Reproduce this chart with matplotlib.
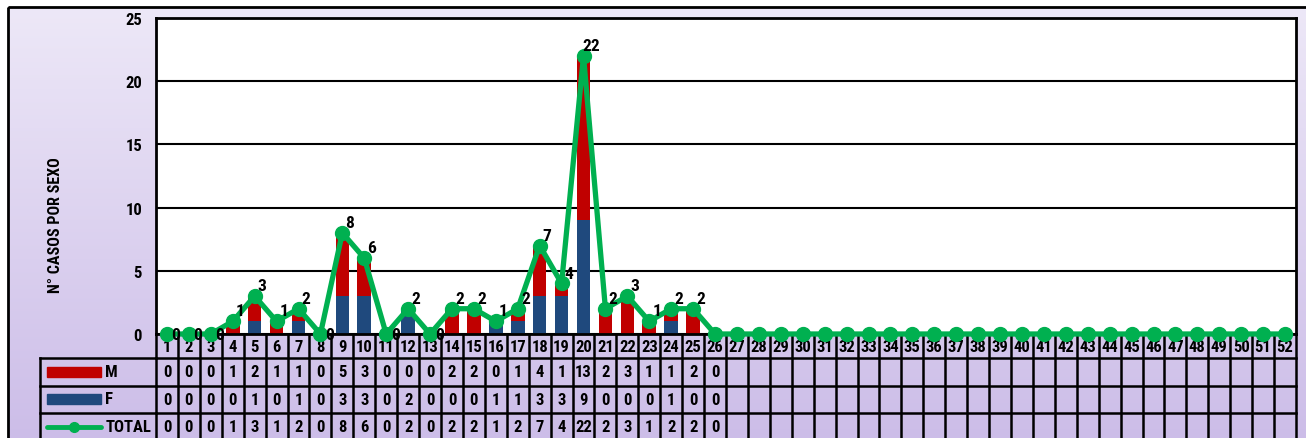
import numpy as np
import matplotlib.pyplot as plt
from matplotlib.patches import Rectangle

plt.rcParams['font.family'] = ['Roboto Condensed', 'DejaVu Sans']
plt.rcParams['font.weight'] = 'bold'

# semanas epidemiologicas
weeks = list(range(1, 53))
m_vals = [0, 0, 0, 1, 2, 1, 1, 0, 5, 3, 0, 0, 0, 2, 2, 0, 1, 4, 1, 13, 2, 3, 1, 1, 2, 0]
f_vals = [0, 0, 0, 0, 1, 0, 1, 0, 3, 3, 0, 2, 0, 0, 0, 1, 1, 3, 3, 9, 0, 0, 0, 1, 0, 0]
total = [0, 0, 0, 1, 3, 1, 2, 0, 8, 6, 0, 2, 0, 2, 2, 1, 2, 7, 4, 22, 2, 3, 1, 2, 2, 0]
# the line keeps going at 0 for the weeks without data
total_line = total + [0] * (len(weeks) - len(total))

red = '#C00000'
blue = '#1F497D'
green = '#00B050'

W, H = 1306, 439
fig = plt.figure(figsize=(W / 100, H / 100), dpi=100)

# background with lavender gradient (pixel coords)
bg = fig.add_axes([0, 0, 1, 1])
bg.set_xlim(0, W)
bg.set_ylim(H, 0)
bg.axis('off')
grad = np.linspace(0, 1, 256).reshape(-1, 1)
top_c = np.array([0.93, 0.91, 0.97])
bot_c = np.array([0.80, 0.74, 0.91])
img = top_c + (bot_c - top_c) * grad[:, :, None]
bg.imshow(img, extent=(8, W + 5, H + 5, 8), aspect='auto', zorder=0)
bg.add_patch(Rectangle((8, 8), W, H, fill=False, ec='black', lw=2, zorder=1))
bg.text(56, 225, 'N° CASOS POR SEXO', rotation=90, ha='center', va='center',
        fontsize=11.5, fontweight='bold')

# table lines in legend column
for y in [359, 387, 414]:
    bg.plot([40, 156], [y, y], color='black', lw=1.8, zorder=2)
bg.plot([40, 40], [359, H + 5], color='black', lw=1.8, zorder=2)
bg.add_patch(Rectangle((47, 368), 54, 10, color=red, zorder=3))
bg.add_patch(Rectangle((47, 395), 54, 10, color=blue, zorder=3))
bg.plot([47, 101], [428, 428], color=green, lw=3.5, zorder=3, solid_capstyle='round')
bg.plot([74], [428], 'o', color=green, ms=7, zorder=3)
bg.text(105, 373, 'M', va='center', ha='left', fontsize=12)
bg.text(105, 400, 'F', va='center', ha='left', fontsize=12)
bg.text(106, 428, 'TOTAL', va='center', ha='left', fontsize=12)

# main chart
ax = fig.add_axes([156 / W, 1 - 335 / H, 1140 / W, 316 / H])
ax.set_zorder(3)
x = np.arange(len(weeks))
xm = np.arange(len(m_vals))
ax.bar(xm, f_vals, width=0.62, color=blue, zorder=2)
ax.bar(xm, m_vals, width=0.62, bottom=f_vals, color=red, zorder=2)
ax.plot(x, total_line, color=green, lw=3.8, marker='o', ms=10, zorder=5, clip_on=False)

for i, v in enumerate(total[:25]):
    if v == 0:
        off = (6.5, -0.5)
    else:
        off = (5.5, 7.5)
    ax.annotate(str(v), (i, v), xytext=off, textcoords='offset points',
                ha='center', va='center', fontsize=12.5, fontweight='bold', zorder=6)

ax.set_xlim(-0.5, len(weeks) - 0.5)
ax.set_ylim(0, 25)
ax.set_yticks(range(0, 26, 5))
ax.set_yticklabels([str(t) for t in range(0, 26, 5)], fontsize=12, fontweight='bold')
ax.tick_params(axis='y', length=0, pad=10)
ax.set_xticks([])
ax.grid(axis='y', color='black', lw=1.5, zorder=1)
for s in ax.spines.values():
    s.set_linewidth(2)
ax.set_facecolor('white')

# data table under the chart
tab = fig.add_axes([156 / W, 0, 1140 / W, 104 / H])
tab.set_zorder(2)
tab.set_xlim(-0.5, len(weeks) - 0.5)
tab.set_ylim(104, 0)
tab.axis('off')
row_lines = [24, 52, 79]
for y in row_lines:
    tab.plot([-0.5, len(weeks) - 0.5], [y, y], color='black', lw=1.8, clip_on=False)
for k in range(len(weeks) + 1):
    tab.plot([k - 0.5, k - 0.5], [0, 110], color='black', lw=1.8, clip_on=False)
for i, w in enumerate(weeks):
    tab.text(i, 13, str(w), ha='center', va='center', fontsize=12)
for i in range(len(total)):
    tab.text(i, 38, str(m_vals[i]), ha='center', va='center', fontsize=12)
    tab.text(i, 65.5, str(f_vals[i]), ha='center', va='center', fontsize=12)
    tab.text(i, 92.5, str(total[i]), ha='center', va='center', fontsize=12)

plt.savefig('out.png', dpi=100)
